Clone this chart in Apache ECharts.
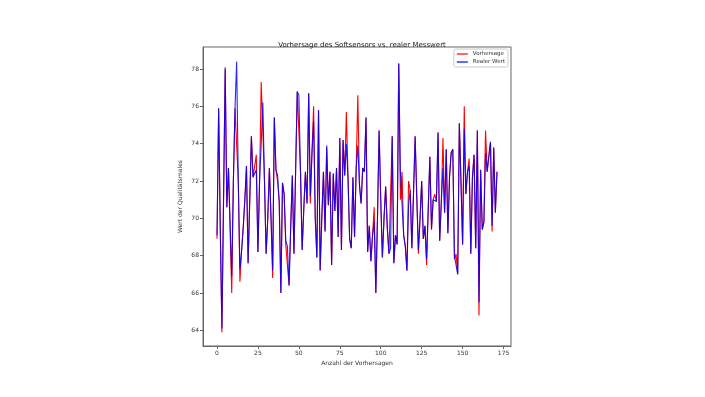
<!DOCTYPE html>
<html>
<head>
<meta charset="utf-8">
<script src="https://cdn.jsdelivr.net/npm/echarts@6/dist/echarts.min.js"></script>
<style>
  html, body { margin: 0; padding: 0; background: #fff; }
  #chart { width: 705px; height: 397px; }
</style>
</head>
<body>
<div id="chart"></div>
<script>
// Messwerte (blau) und Vorhersage (rot), Index 0..171
const realerWert = [
  69.1, 75.9, 69.5, 64.1, 71.0, 78.1, 70.6, 72.7, 72.7, 66.9,
  72.0, 75.9, 78.4, 72.0, 67.3, 68.2, 69.5, 71.0, 72.8, 67.6,
  71.0, 74.4, 72.2, 72.3, 72.6, 68.2, 72.0, 74.0, 76.2, 72.0,
  68.1, 70.0, 72.7, 70.0, 67.2, 75.4, 72.6, 72.3, 70.9, 66.0,
  71.9, 71.3, 68.8, 68.5, 66.4, 69.5, 72.3, 68.1, 72.5, 76.8,
  76.6, 72.5, 68.3, 70.5, 72.5, 70.8, 76.7, 71.2, 73.5, 75.2,
  70.0, 67.9, 75.8, 67.2, 70.0, 72.5, 69.3, 73.9, 70.7, 72.5,
  67.5, 72.4, 70.4, 72.7, 69.0, 74.3, 68.3, 74.2, 72.3, 74.0,
  72.2, 68.9, 68.4, 72.2, 69.0, 72.7, 73.9, 71.8, 70.8, 72.7,
  72.5, 75.4, 68.2, 69.6, 67.7, 69.1, 69.8, 66.0, 70.0, 74.7,
  71.0, 67.9, 70.0, 71.7, 69.5, 68.1, 68.4, 74.4, 67.6, 69.1,
  68.6, 78.3, 72.5, 72.5, 69.1, 68.5, 67.2, 70.7, 71.5, 68.4,
  71.3, 74.4, 71.2, 68.3, 70.0, 72.0, 68.9, 69.6, 67.8, 70.5,
  73.3, 69.4, 71.0, 71.0, 70.9, 74.6, 68.8, 70.9, 72.7, 70.3,
  73.7, 69.2, 72.2, 73.5, 73.7, 68.0, 68.1, 67.0, 75.1, 72.0,
  68.6, 74.8, 71.3, 72.5, 72.8, 68.1, 72.2, 73.4, 68.4, 74.7,
  65.5, 72.6, 69.4, 69.8, 73.5, 72.5, 72.5, 74.1, 69.6, 73.8,
  70.3, 72.5
];

const vorhersage = [
  68.9, 75.9, 69.5, 63.9, 71.0, 78.0, 70.6, 72.7, 72.7, 66.0,
  72.0, 75.9, 75.8, 72.0, 66.6, 68.3, 69.5, 71.0, 72.8, 67.6,
  71.0, 74.4, 72.2, 72.3, 73.4, 68.2, 72.0, 77.3, 77.2, 72.0,
  68.1, 70.0, 72.7, 70.0, 66.8, 75.4, 72.6, 72.0, 70.9, 66.0,
  71.9, 71.3, 68.6, 68.5, 66.4, 69.5, 72.3, 68.1, 72.5, 76.8,
  76.7, 72.5, 68.3, 70.5, 72.5, 70.8, 76.7, 70.8, 73.5, 76.0,
  70.0, 67.9, 75.8, 67.2, 70.0, 72.5, 69.3, 73.8, 70.7, 72.5,
  67.5, 72.4, 70.4, 72.7, 69.0, 74.3, 68.3, 74.2, 72.3, 75.7,
  72.2, 68.9, 68.4, 72.2, 69.0, 72.7, 76.6, 71.8, 70.8, 72.7,
  72.5, 75.4, 68.2, 69.6, 67.7, 69.1, 70.6, 66.0, 70.0, 74.7,
  71.0, 67.9, 70.0, 71.7, 69.5, 68.1, 68.1, 74.4, 67.6, 69.1,
  68.6, 78.3, 71.0, 72.5, 69.1, 68.5, 67.2, 72.0, 71.5, 68.4,
  71.3, 74.4, 71.2, 68.1, 70.0, 72.0, 68.9, 69.6, 67.5, 70.5,
  73.3, 69.4, 71.0, 71.3, 70.9, 74.6, 68.8, 70.9, 74.3, 70.3,
  73.7, 69.2, 72.2, 73.5, 73.7, 67.8, 68.1, 67.0, 75.1, 72.0,
  68.6, 76.0, 71.3, 72.5, 73.2, 68.1, 72.2, 73.4, 68.4, 74.7,
  64.8, 72.6, 69.4, 69.8, 74.7, 72.5, 72.5, 74.1, 69.3, 73.8,
  70.3, 72.5
];

const xTicks = [0, 25, 50, 75, 100, 125, 150, 175];
const yTicks = [64, 66, 68, 70, 72, 74, 76, 78];

const toPairs = arr => arr.map((v, i) => [i, v]);

const chart = echarts.init(document.getElementById('chart'));
const labelStyle = { fontFamily: 'DejaVu Sans', fontSize: 6, color: '#333' };

chart.setOption({
  animation: false,
  title: {
    text: 'Vorhersage des Softsensors vs. realer Messwert',
    left: 357,
    top: 37,
    textAlign: 'center',
    textStyle: { fontFamily: 'DejaVu Sans', fontSize: 7, fontWeight: 'normal', color: '#222' }
  },
  legend: {
    orient: 'vertical',
    right: 197,
    top: 49,
    padding: [2, 3, 2, 3],
    itemGap: 2,
    itemWidth: 11,
    itemHeight: 1.2,
    icon: 'rect',
    borderColor: '#ccc',
    borderWidth: 1,
    borderRadius: 2,
    textStyle: { fontFamily: 'DejaVu Sans', fontSize: 5.5, color: '#333', padding: [0, 0, 0, 0] },
    data: ['Vorhersage', 'Realer Wert']
  },
  grid: {
    left: 203,
    right: 194,
    top: 47,
    bottom: 51,
    show: true,
    borderColor: '#666',
    borderWidth: 1
  },
  xAxis: {
    type: 'value',
    min: -8.55,
    max: 179.55,
    name: 'Anzahl der Vorhersagen',
    nameLocation: 'middle',
    nameGap: 12,
    nameTextStyle: labelStyle,
    axisLine: { show: true, onZero: false, lineStyle: { color: '#666' } },
    axisTick: { show: true, length: 3, customValues: xTicks, lineStyle: { color: '#666' } },
    axisLabel: Object.assign({ customValues: xTicks, margin: 4 }, labelStyle),
    splitLine: { show: false }
  },
  yAxis: {
    type: 'value',
    min: 63.16,
    max: 79.18,
    name: 'Wert der Qualitätsmales',
    nameLocation: 'middle',
    nameGap: 20,
    nameTextStyle: labelStyle,
    axisLine: { show: true, onZero: false, lineStyle: { color: '#666' } },
    axisTick: { show: true, length: 3, customValues: yTicks, lineStyle: { color: '#666' } },
    axisLabel: Object.assign({ customValues: yTicks, margin: 4 }, labelStyle),
    splitLine: { show: false }
  },
  series: [
    {
      name: 'Vorhersage',
      type: 'line',
      data: toPairs(vorhersage),
      showSymbol: false,
      lineStyle: { color: '#ff0000', width: 1.1 },
      itemStyle: { color: '#ff0000' }
    },
    {
      name: 'Realer Wert',
      type: 'line',
      data: toPairs(realerWert),
      showSymbol: false,
      lineStyle: { color: '#0000ff', width: 1.1, opacity: 0.85 },
      itemStyle: { color: '#0000ff' }
    }
  ]
});
</script>
</body>
</html>
